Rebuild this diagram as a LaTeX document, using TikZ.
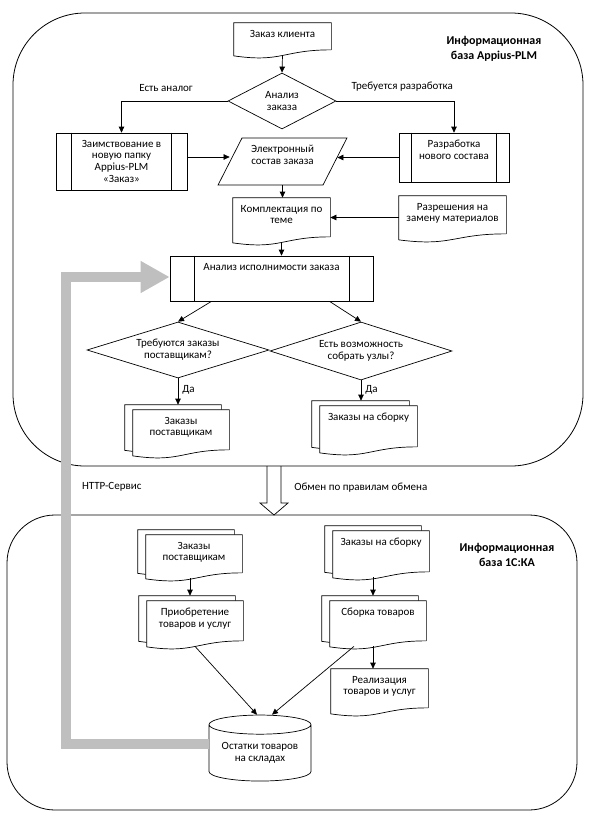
\documentclass[tikz,border=0pt]{standalone}
\usepackage{fontspec}
\setmainfont{Carlito}
\usetikzlibrary{arrows.meta,shapes.geometric}
\definecolor{bargray}{RGB}{191,191,191}

\tikzset{
  base/.style={font=\fontsize{11pt}{11.8pt}\selectfont},
  head/.style={font=\fontsize{12pt}{15pt}\selectfont\bfseries, align=center},
  arr/.style={-{Triangle[length=6pt,width=5.5pt]}},
  lbl/.style={base, inner sep=0pt, text=black},
  txt/.style={base, anchor=north, align=center, inner sep=0pt, yshift=-7pt},
  toptext/.style={label={[txt]north:{#1}}},
  box/.style 2 args={minimum width=#1, minimum height=#2, inner sep=0pt},
  % predefined process: frame with two inner side lines
  proc/.style={draw, append after command={\pgfextra{%
      \draw ([xshift=#1]\tikzlastnode.north west) -- ([xshift=#1]\tikzlastnode.south west)
            ([xshift=-#1]\tikzlastnode.north east) -- ([xshift=-#1]\tikzlastnode.south east);}}},
  % document: wavy lower edge
  doc/.style={append after command={\pgfextra{%
      \draw ([yshift=5.5pt]\tikzlastnode.south east) -- (\tikzlastnode.north east)
        -- (\tikzlastnode.north west) -- ([yshift=-0.5pt]\tikzlastnode.south west)
        .. controls ([yshift=-7.5pt]\tikzlastnode.south) and ([yshift=5.5pt]\tikzlastnode.south)
        .. ([yshift=5.5pt]\tikzlastnode.south east);}}},
  % several documents: one more sheet behind
  mdoc/.style={doc, append after command={\pgfextra{%
      \draw ([yshift=4pt]\tikzlastnode.south west) -- ++(-8pt,1pt)
        -- ([shift={(-8pt,5pt)}]\tikzlastnode.north west)
        -- ([shift={(-8pt,5pt)}]\tikzlastnode.north east) -- ++(0pt,-5pt);}}},
  para/.style={trapezium, draw, trapezium left angle=63, trapezium right angle=117,
    inner xsep=40.5pt, inner ysep=23.5pt},
  dec/.style={diamond, draw, aspect=2, inner sep=0pt, base, align=center},
  store/.style={cylinder, draw, shape border rotate=90, aspect=0.25, inner sep=0pt,
    base, align=center},
  frame/.style={line width=0.8pt},
  http/.style={bargray, line width=10pt, -{Triangle[length=29pt,width=30pt]}}
}

\begin{document}
\begin{tikzpicture}[x=1pt, y=-1pt, line width=0.7pt]
  \useasboundingbox (0,0) rectangle (605,819);

  % base Appius-PLM
  \draw[frame, rounded corners=72pt] (13,13) rectangle (583,466);
  \node[head] (hplm) at (494,48.5) {Информационная\\база Appius-PLM};

  \node[box={97pt}{32pt}, doc, toptext={Заказ клиента}] (klient) at (282.5,39) {};
  \node[dec, minimum width=108pt, minimum height=56pt] (an) at (282,101) {Анализ\\заказа};
  \node[box={131pt}{57pt}, proc=16pt,
    toptext={Заимствование в\\новую папку\\Appius-PLM\\«Заказ»}] (zaim) at (121.5,161.5) {};
  \node[para, toptext={Электронный\\состав заказа}] (elec) at (282.5,161.5) {};
  \node[box={110pt}{49pt}, proc=13pt, toptext={Разработка\\нового состава}] (razr) at (454,157.5) {};
  \node[box={97pt}{44pt}, doc, toptext={Комплектация по\\теме}] (kompl) at (281.5,220) {};
  \node[box={107pt}{43pt}, doc, toptext={Разрешения на\\замену материалов}] (razresh) at (452.5,217.5) {};
  \node[box={203pt}{45pt}, proc=24.5pt, toptext={Анализ исполнимости заказа}] (analiz) at (271.5,278.5) {};
  \node[dec, aspect=3.5, minimum width=182pt, minimum height=56pt] (d1) at (178,350) {Требуются заказы\\поставщикам?};
  \node[dec, aspect=3.5, minimum width=182pt, minimum height=58pt] (d2) at (361,351) {Есть возможность\\собрать узлы?};
  \node[box={96pt}{45pt}, mdoc, toptext={Заказы\\поставщикам}] (zp1) at (181,432.5) {};
  \node[box={97pt}{46pt}, mdoc, toptext={Заказы на сборку}] (zs1) at (368.5,429) {};

  \draw[arr] (klient.south) -- (an.north);
  \draw[arr] (an.west) -| node[lbl, above=9pt, pos=0.29] {Есть аналог} (zaim.north);
  \draw[arr] (an.east) -| node[lbl, above=9pt, pos=0.28] {Требуется разработка} (razr.north);
  \draw[arr] ([yshift=4.5pt]zaim.east) -- ([yshift=4.5pt]zaim.east -| elec.west);
  \draw[arr] (razr.west) -- ([xshift=2pt]razr.west -| elec.east);
  \draw[arr] (elec.south) -- (elec.south |- kompl.north);
  \draw[arr] (razresh.west) -- (razresh.west -| kompl.east);
  \draw[arr] (kompl.south) -- (kompl.south |- analiz.north);
  \draw[arr] ([xshift=-60pt]analiz.south) -- (d1.north);
  \draw[arr] ([xshift=58pt]analiz.south) -- (d2.north);
  \draw[arr] (d1.south) -- node[lbl, right=4pt, pos=0.45] {Да} ([yshift=5pt]d1.south |- zp1.north);
  \draw[arr] (d2.south) -- node[lbl, right=4pt, pos=0.45] {Да} ([yshift=5pt]d2.south |- zs1.north);

  % exchange between the bases
  \draw (267,466) -- (267,503) -- (260,503) -- (274,515) -- (288,503) -- (281,503) -- (281,466);
  \node[lbl, anchor=west] (obmen) at (294,488) {Обмен по правилам обмена};

  % base 1C:KA
  \draw[frame, rounded corners=48pt] (7,515) rectangle (577,810);
  \node[head] (hka) at (507,555) {Информационная\\база 1С:КА};

  \node[box={96pt}{43pt}, mdoc, toptext={Заказы\\поставщикам}] (zp2) at (194,556.5) {};
  \node[box={96pt}{46pt}, mdoc, toptext={Заказы на сборку}] (zs2) at (381,554) {};
  \node[box={96pt}{45pt}, mdoc, toptext={Приобретение\\товаров и услуг}] (prio) at (195,623.5) {};
  \node[box={96pt}{45pt}, mdoc, toptext={Сборка товаров}] (sborka) at (378,623.5) {};
  \node[box={97pt}{44pt}, doc, toptext={Реализация\\товаров и услуг}] (real) at (379.5,691) {};
  \node[store, minimum width=102pt, minimum height=66pt] (ost) at (260,753) {Остатки товаров\\на складах};

  \draw[arr] ([xshift=-4pt]zp2.south) -- ([shift={(-4pt,5pt)}]zp2.south |- prio.north);
  \draw[arr] ([xshift=-8pt]zs2.south) -- ([shift={(-8pt,5pt)}]zs2.south |- sborka.north);
  \draw[arr] ([xshift=-5pt]sborka.south) -- ([xshift=-5pt]sborka.south |- real.north);
  \draw[arr] (prio.south) -- ([xshift=-3pt]ost.north);
  \draw[arr] ([xshift=-24pt]sborka.south) -- ([xshift=12pt]ost.north);

  % feedback to Appius-PLM
  \coordinate (turn) at (66,277);
  \draw[http] ([yshift=9pt]ost.west) -| node[lbl, right=11pt, pos=0.775] {HTTP-Сервис} (turn)
    -- (turn -| analiz.west);
\end{tikzpicture}
\end{document}
